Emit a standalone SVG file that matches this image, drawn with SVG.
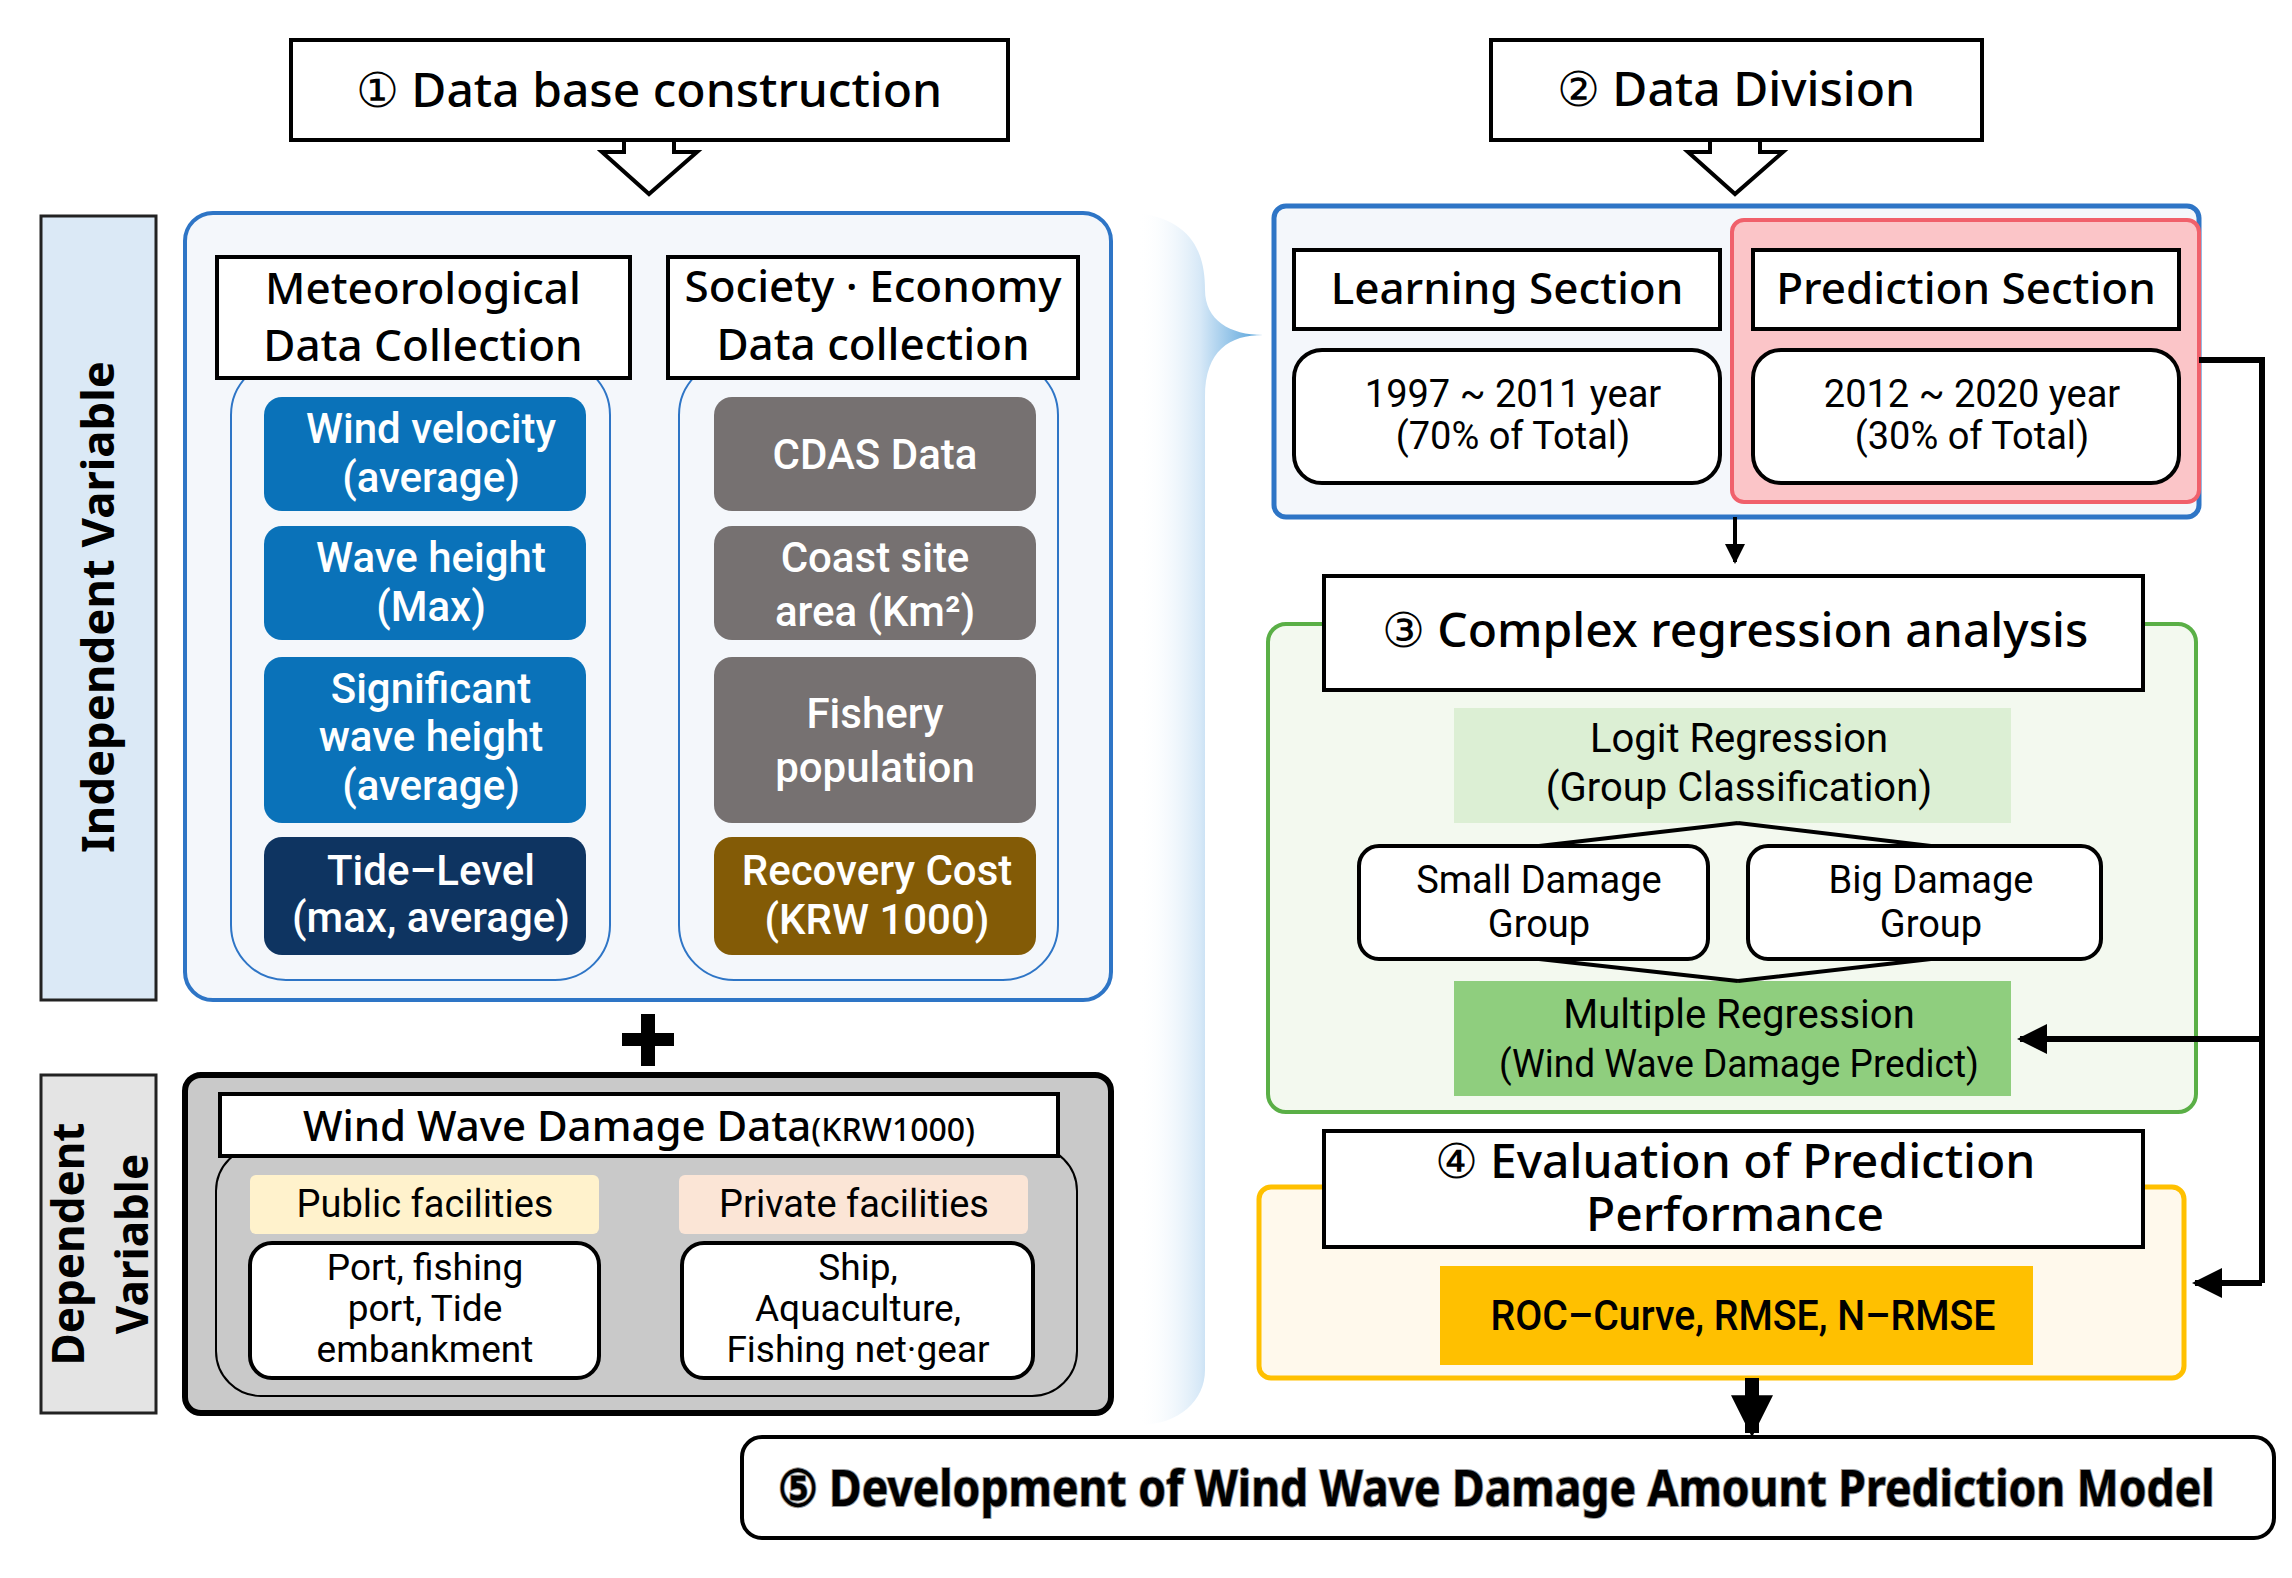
<svg xmlns="http://www.w3.org/2000/svg" width="2292" height="1578" viewBox="0 0 2292 1578">
<style>
text{font-family:"Noto Sans","Liberation Sans",sans-serif;text-anchor:middle}
.t{font-size:48px;font-weight:500;fill:#000}
.h{font-size:44px;font-weight:500;fill:#000}
.w{font-size:42px;font-weight:500;fill:#fff;font-family:"Roboto","Noto Sans",sans-serif}
.k{font-size:38px;fill:#000;font-family:"Roboto","Noto Sans",sans-serif}
.r{font-family:"Roboto","Noto Sans",sans-serif;fill:#000}
.box{fill:#fff;stroke:#000;stroke-width:4}
.bl{fill:#0a72b9}
.gr{fill:#767171}
</style>
<defs>
<linearGradient id="g" x1="0" x2="1" y1="0" y2="0">
<stop offset="0" stop-color="#ffffff" stop-opacity="0"/>
<stop offset="0.5" stop-color="#d6e8f7"/>
<stop offset="1" stop-color="#4f9fd9"/>
</linearGradient>
<marker id="a" viewBox="0 0 10 10" refX="9" refY="5" markerWidth="5" markerHeight="5" orient="auto"><path d="M0,0L10,5L0,10z" fill="#000"/></marker>
<marker id="b" viewBox="0 0 10 10" refX="9" refY="5" markerWidth="3" markerHeight="3" orient="auto"><path d="M0,0L10,5L0,10z" fill="#000"/></marker>
</defs>
<rect width="2292" height="1578" fill="#fff"/>

<path d="M1138,213 C1190,220 1205,250 1205,290 C1205,320 1230,335 1263,335 C1230,335 1205,350 1205,397 L1205,1370 C1205,1400 1180,1425 1138,1425 L1138,213 Z" fill="url(#g)"/>

<g id="title1">
<polygon points="624,138 624,152 602,152 649,194 697,152 674,152 674,138" fill="#fff" stroke="#000" stroke-width="4"/>
<rect x="291" y="40" width="717" height="100" class="box" stroke-width="5"/>
<text x="649" y="107" class="t">① Data base construction</text>
</g>

<g id="indep-label">
<rect x="41" y="216" width="115" height="784" fill="#dbe9f6" stroke="#222" stroke-width="3"/>
<text transform="translate(114,607) rotate(-90)" font-size="44" font-weight="700" font-family="'DejaVu Sans','Noto Sans',sans-serif" textLength="492" lengthAdjust="spacingAndGlyphs">Independent Variable</text>
</g>

<g id="indep-box">
<rect x="185" y="213" width="926" height="787" rx="28" fill="#f4f7fb" stroke="#2e75c6" stroke-width="4"/>
<rect x="231" y="360" width="379" height="620" rx="55" fill="none" stroke="#2e75c6" stroke-width="2"/>
<rect x="679" y="360" width="379" height="620" rx="55" fill="none" stroke="#2e75c6" stroke-width="2"/>
</g>

<g id="meteo-header">
<rect x="217" y="257" width="413" height="121" class="box" stroke-width="3"/>
<text x="423" y="304" class="h" font-size="42">Meteorological</text>
<text x="423" y="361" class="h" font-size="42">Data Collection</text>
</g>
<g id="society-header">
<rect x="668" y="257" width="410" height="121" class="box" stroke-width="3"/>
<text x="873" y="302" class="h" font-size="36">Society · Economy</text>
<text x="873" y="360" class="h" font-size="42">Data collection</text>
</g>

<g id="wind"><rect x="264" y="397" width="322" height="114" rx="18" class="bl"/>
<text x="431" y="443" class="w">Wind velocity</text><text x="431" y="492" class="w">(average)</text></g>
<g id="wave"><rect x="264" y="526" width="322" height="114" rx="18" class="bl"/>
<text x="431" y="572" class="w">Wave height</text><text x="431" y="621" class="w">(Max)</text></g>
<g id="sig"><rect x="264" y="657" width="322" height="166" rx="18" class="bl"/>
<text x="431" y="703" class="w">Significant</text><text x="431" y="751" class="w">wave height</text><text x="431" y="800" class="w">(average)</text></g>
<g id="tide"><rect x="264" y="837" width="322" height="118" rx="18" fill="#0e3461"/>
<text x="431" y="885" class="w">Tide–Level</text><text x="431" y="932" class="w" font-size="34">(max, average)</text></g>

<g id="cdas"><rect x="714" y="397" width="322" height="114" rx="18" class="gr"/>
<text x="875" y="469" class="w" font-size="46">CDAS Data</text></g>
<g id="coast"><rect x="714" y="526" width="322" height="114" rx="18" class="gr"/>
<text x="875" y="572" class="w">Coast site</text><text x="875" y="626" class="w">area (Km²)</text></g>
<g id="fishery"><rect x="714" y="657" width="322" height="166" rx="18" class="gr"/>
<text x="875" y="728" class="w">Fishery</text><text x="875" y="782" class="w">population</text></g>
<g id="recovery"><rect x="714" y="837" width="322" height="118" rx="18" fill="#835b06"/>
<text x="877" y="885" class="w">Recovery Cost</text><text x="877" y="934" class="w" font-size="36">(KRW 1000)</text></g>

<g id="plus"><rect x="622" y="1033" width="52" height="13" fill="#000"/><rect x="641" y="1014" width="14" height="52" fill="#000"/></g>

<g id="dep-label">
<rect x="41" y="1075" width="115" height="338" fill="#e4e4e4" stroke="#222" stroke-width="3"/>
<text transform="translate(84,1244) rotate(-90)" font-size="44" font-weight="700" font-family="'DejaVu Sans','Noto Sans',sans-serif">Dependent</text>
<text transform="translate(148,1244) rotate(-90)" font-size="44" font-weight="700" font-family="'DejaVu Sans','Noto Sans',sans-serif">Variable</text>
</g>

<g id="dep-box">
<rect x="185" y="1075" width="926" height="338" rx="16" fill="#c9c9c9" stroke="#000" stroke-width="6"/>
<rect x="216" y="1146" width="861" height="250" rx="45" fill="none" stroke="#000" stroke-width="2"/>
<rect x="220" y="1094" width="838" height="62" class="box" stroke-width="3"/>
<text x="639" y="1141" font-size="42" font-weight="500">Wind Wave Damage Data<tspan font-size="32">(KRW1000)</tspan></text>
<rect x="250" y="1175" width="349" height="59" rx="6" fill="#fff2cc"/>
<text x="425" y="1217" class="k">Public facilities</text>
<rect x="679" y="1175" width="349" height="59" rx="6" fill="#fbe5d6"/>
<text x="854" y="1217" class="k">Private facilities</text>
<rect x="250" y="1243" width="349" height="135" rx="22" class="box" stroke-width="3"/>
<text x="425" y="1280" font-size="37" class="r">Port, fishing</text><text x="425" y="1321" font-size="37" class="r">port, Tide</text><text x="425" y="1362" font-size="37" class="r">embankment</text>
<rect x="682" y="1243" width="351" height="135" rx="22" class="box" stroke-width="3"/>
<text x="858" y="1280" font-size="37" class="r">Ship,</text><text x="858" y="1321" font-size="37" class="r">Aquaculture,</text><text x="858" y="1362" font-size="37" class="r">Fishing net·gear</text>
</g>

<g id="title2">
<polygon points="1710,138 1710,152 1688,152 1735,194 1783,152 1760,152 1760,138" fill="#fff" stroke="#000" stroke-width="4"/>
<rect x="1491" y="40" width="491" height="100" class="box" stroke-width="5"/>
<text x="1736" y="106" class="t">② Data Division</text>
</g>

<g id="division">
<rect x="1274" y="206" width="925" height="311" rx="12" fill="#f4f7fb" stroke="#2e75c6" stroke-width="5"/>
<rect x="1732" y="220" width="467" height="282" rx="12" fill="#fbc5c8" stroke="#f0606b" stroke-width="4"/>
<rect x="1294" y="250" width="426" height="79" class="box" stroke-width="3"/>
<text x="1507" y="304" class="h">Learning Section</text>
<rect x="1753" y="250" width="426" height="79" class="box" stroke-width="3"/>
<text x="1966" y="304" class="h" font-family="Roboto,'Noto Sans',sans-serif">Prediction Section</text>
<rect x="1294" y="350" width="426" height="133" rx="28" class="box" stroke-width="3"/>
<text x="1513" y="407" font-size="38" class="r">1997 ~ 2011 year</text><text x="1513" y="449" font-size="38" class="r">(70% of Total)</text>
<rect x="1753" y="350" width="426" height="133" rx="28" class="box" stroke-width="3"/>
<text x="1972" y="407" font-size="38" class="r">2012 ~ 2020 year</text><text x="1972" y="449" font-size="38" class="r">(30% of Total)</text>
</g>

<g id="regression">
<rect x="1268" y="624" width="928" height="488" rx="18" fill="#f3f9ef" stroke="#5aaf46" stroke-width="4"/>
<rect x="1324" y="576" width="819" height="114" class="box" stroke-width="6"/>
<text x="1735" y="647" class="t" font-size="50">③ Complex regression analysis</text>
<rect x="1454" y="708" width="557" height="115" fill="#dcefd4"/>
<text x="1739" y="752" font-size="40" class="r">Logit Regression</text><text x="1739" y="801" font-size="40" class="r">(Group Classification)</text>
<rect x="1359" y="846" width="349" height="113" rx="20" class="box" stroke-width="3"/>
<text x="1539" y="893" font-size="38" class="r">Small Damage</text><text x="1539" y="937" font-size="38" class="r">Group</text>
<rect x="1748" y="846" width="353" height="113" rx="20" class="box" stroke-width="3"/>
<text x="1931" y="893" font-size="38" class="r">Big Damage</text><text x="1931" y="937" font-size="38" class="r">Group</text>
<rect x="1454" y="981" width="557" height="115" fill="#8fce7e"/>
<text x="1739" y="1028" font-size="40" class="r">Multiple Regression</text><text x="1739" y="1077" font-size="38" class="r" textLength="480" lengthAdjust="spacingAndGlyphs">(Wind Wave Damage Predict)</text>
</g>

<g id="evaluation">
<rect x="1259" y="1187" width="925" height="191" rx="12" fill="#fff9ec" stroke="#ffc000" stroke-width="5"/>
<rect x="1324" y="1131" width="819" height="116" class="box" stroke-width="6"/>
<text x="1735" y="1178" class="t" font-size="46">④ Evaluation of Prediction</text>
<text x="1735" y="1231" class="t" font-size="46">Performance</text>
<rect x="1440" y="1266" width="593" height="99" fill="#ffc000"/>
<text x="1743" y="1330" font-size="42" font-weight="500" class="r" textLength="505" lengthAdjust="spacingAndGlyphs">ROC–Curve, RMSE, N–RMSE</text>
</g>

<g id="title5">
<rect x="742" y="1437" width="1532" height="101" rx="20" class="box" stroke-width="6"/>
<text x="1496" y="1506" font-size="50" font-weight="700" textLength="1437" lengthAdjust="spacingAndGlyphs" fill="#000" style="paint-order:stroke" stroke="#999" stroke-width="2">⑤ Development of Wind Wave Damage Amount Prediction Model</text>
</g>

<g id="connectors" fill="none" stroke="#000">
<path d="M1735,517 L1735,562" stroke-width="4" marker-end="url(#a)"/>
<path d="M1738,823 L1539,846 M1738,823 L1931,846" stroke-width="4"/>
<path d="M1539,959 L1738,981 M1931,959 L1738,981" stroke-width="4"/>
<path d="M2199,360 L2262,360 L2262,1283" stroke-width="6"/>
<path d="M2262,1039 L2020,1039" stroke-width="6" marker-end="url(#a)"/>
<path d="M2262,1283 L2195,1283" stroke-width="6" marker-end="url(#a)"/>
<path d="M1752,1378 L1752,1433" stroke-width="14" marker-end="url(#b)"/>
</g>
</svg>
